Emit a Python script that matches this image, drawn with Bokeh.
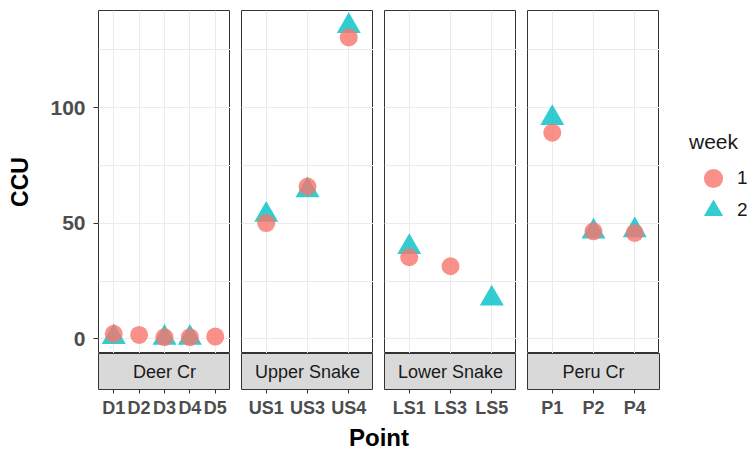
from bokeh.plotting import figure
from bokeh.layouts import row, column
from bokeh.models import (FactorRange, Range1d, SingleIntervalTicker, CategoricalTicker,
                          Label, Legend, LegendItem, ColumnDataSource)
from bokeh.embed import file_html
from bokeh.resources import INLINE

# ---------------- data ----------------
groups = ["Deer Cr", "Upper Snake", "Lower Snake", "Peru Cr"]
group_points = [["D1", "D2", "D3", "D4", "D5"],
                ["US1", "US3", "US4"],
                ["LS1", "LS3", "LS5"],
                ["P1", "P2", "P4"]]

week1_point = ["D1", "D2", "D3", "D4", "D5", "US1", "US3", "US4", "LS1", "LS3", "P1", "P2", "P4"]
week1_ccu = [2.2, 1.7, 0.7, 0.7, 1.0, 50.1, 65.9, 130.4, 35.3, 31.4, 89.2, 46.5, 45.8]

week2_point = ["D1", "D3", "D4", "US1", "US3", "US4", "LS1", "LS5", "P1", "P2", "P4"]
week2_ccu = [0.8, 0.4, 0.4, 53.6, 64.3, 135.3, 39.7, 17.4, 95.5, 46.4, 46.9]

week_labels = ["1", "2"]

# ---------------- style ----------------
FONT = "Liberation Sans"
C1 = "#F8766D"
C2 = "#00BFC4"
GRID = "#EBEBEB"
BORDER = "#333333"
STYLE1 = dict(marker="circle", size=18, fill_color=C1, fill_alpha=0.8, line_color=None)
STYLE2 = dict(marker="triangle", size=24, fill_color=C2, fill_alpha=0.8, line_color=None)

all_vals = week1_ccu + week2_ccu
lo, hi = min(all_vals), max(all_vals)
pad = 0.05 * (hi - lo)
y_range = Range1d(lo - pad, hi + pad)

FRAME_W = 132
FRAME_H = 343
GAP = 11
LEFT0 = 98
RIGHT = 90

top_figs = []
strip_figs = []

for i, g in enumerate(groups):
    pts = group_points[i]
    xr = FactorRange(factors=pts, range_padding=0.1, range_padding_units="absolute")
    left = LEFT0 if i == 0 else GAP

    p = figure(x_range=xr, y_range=y_range, frame_width=FRAME_W, frame_height=FRAME_H,
               min_border_left=left, min_border_right=0, min_border_top=10,
               min_border_bottom=0, x_axis_location=None,
               y_axis_location="left" if i == 0 else None,
               toolbar_location=None, output_backend="svg", title=None)
    p.outline_line_color = BORDER
    p.outline_line_width = 1
    p.background_fill_color = "white"
    p.border_fill_color = "white"

    p.xgrid.ticker = CategoricalTicker()
    p.xgrid.grid_line_color = GRID
    p.xgrid.grid_line_width = 1
    p.ygrid.ticker = SingleIntervalTicker(interval=50, num_minor_ticks=2)
    p.ygrid.grid_line_color = GRID
    p.ygrid.grid_line_width = 1
    p.ygrid.minor_grid_line_color = GRID
    p.ygrid.minor_grid_line_width = 1

    if i == 0:
        ax = p.yaxis[0]
        ax.ticker = SingleIntervalTicker(interval=50, num_minor_ticks=2)
        ax.axis_label = "CCU"
        ax.axis_label_text_font = FONT
        ax.axis_label_text_font_size = "23px"
        ax.axis_label_text_font_style = "bold"
        ax.axis_label_text_color = "black"
        ax.axis_label_standoff = 14
        ax.major_label_text_font = FONT
        ax.major_label_text_font_size = "21px"
        ax.major_label_text_font_style = "bold"
        ax.major_label_text_color = "#4D4D4D"
        ax.major_label_standoff = 8
        ax.axis_line_color = None
        ax.major_tick_line_color = BORDER
        ax.major_tick_out = 5
        ax.major_tick_in = 0
        ax.minor_tick_line_color = None

    s1 = ColumnDataSource(dict(point=[pt for pt in week1_point if pt in pts],
                               ccu=[v for pt, v in zip(week1_point, week1_ccu) if pt in pts]))
    s2 = ColumnDataSource(dict(point=[pt for pt in week2_point if pt in pts],
                               ccu=[v for pt, v in zip(week2_point, week2_ccu) if pt in pts]))
    p.scatter("point", "ccu", source=s2, **STYLE2)
    p.scatter("point", "ccu", source=s1, **STYLE1)
    top_figs.append(p)

    # strip + x axis
    right = RIGHT if i == len(groups) - 1 else 0
    s = figure(x_range=xr, y_range=Range1d(0, 1), frame_width=FRAME_W, frame_height=36,
               min_border_left=left, min_border_right=right, min_border_top=0,
               min_border_bottom=34, x_axis_location="below", y_axis_location=None,
               toolbar_location=None, output_backend="svg", title=None)
    s.background_fill_color = "#D9D9D9"
    s.border_fill_color = "white"
    s.outline_line_color = BORDER
    s.outline_line_width = 1
    s.xgrid.grid_line_color = None
    s.ygrid.grid_line_color = None
    xa = s.xaxis[0]
    xa.axis_line_color = None
    xa.major_tick_line_color = BORDER
    xa.major_tick_out = 4
    xa.major_tick_in = 0
    xa.major_label_text_font = FONT
    xa.major_label_text_font_size = "18px"
    xa.major_label_text_font_style = "bold"
    xa.major_label_text_color = "#4D4D4D"
    xa.major_label_standoff = 4
    s.add_layout(Label(x=len(pts) / 2, y=0.5, text=g, text_align="center",
                       text_baseline="middle", text_font=FONT, text_font_size="18px",
                       text_color="#1A1A1A"))
    strip_figs.append(s)

# ---------------- legend column ----------------
all_points = [pt for grp in group_points for pt in grp]
lf = figure(x_range=FactorRange(factors=all_points), y_range=y_range, frame_width=RIGHT,
            frame_height=FRAME_H, min_border_left=0, min_border_right=0,
            min_border_top=10, min_border_bottom=0, x_axis_location=None,
            y_axis_location=None, toolbar_location=None, output_backend="svg", title=None)
lf.outline_line_color = None
lf.xgrid.visible = False
lf.ygrid.visible = False
k1 = lf.scatter("point", "ccu", source=ColumnDataSource(dict(point=week1_point, ccu=week1_ccu)),
                visible=False, **STYLE1)
k2 = lf.scatter("point", "ccu", source=ColumnDataSource(dict(point=week2_point, ccu=week2_ccu)),
                visible=False, **STYLE2)
common = dict(margin=0, padding=0, glyph_width=48, glyph_height=48, label_standoff=0,
              label_text_font=FONT, label_text_font_size="19px", label_text_color="#1A1A1A",
              border_line_color=None, background_fill_alpha=0, inactive_fill_alpha=0)
LEG_X = 30
legend1 = Legend(items=[LegendItem(label=week_labels[0], renderers=[k1])],
                 title="week", location=(LEG_X, 151), title_standoff=0,
                 title_text_font=FONT, title_text_font_size="21px",
                 title_text_font_style="normal", title_text_color="#1A1A1A", **common)
legend2 = Legend(items=[LegendItem(label=week_labels[1], renderers=[k2])],
                 location=(LEG_X, 119), **common)
lf.add_layout(legend1, "center")
lf.add_layout(legend2, "center")

# x axis title
xl = figure(x_range=Range1d(0, 1), y_range=Range1d(0, 1),
            frame_width=4 * FRAME_W + 3 * GAP, frame_height=27,
            min_border_left=LEFT0, min_border_right=RIGHT, min_border_top=0, min_border_bottom=0,
            x_axis_location=None, y_axis_location=None, toolbar_location=None,
            output_backend="svg", title=None)
xl.outline_line_color = None
xl.xgrid.visible = False
xl.ygrid.visible = False
xl.add_layout(Label(x=0.5, y=0.5, text="Point", text_align="center", text_baseline="middle",
                    text_font=FONT, text_font_size="24px", text_font_style="bold",
                    text_color="black"))

layout = column(row(*top_figs, lf, spacing=0), row(*strip_figs, spacing=0), xl, spacing=0)

open("out.html", "w").write(file_html(layout, INLINE))
